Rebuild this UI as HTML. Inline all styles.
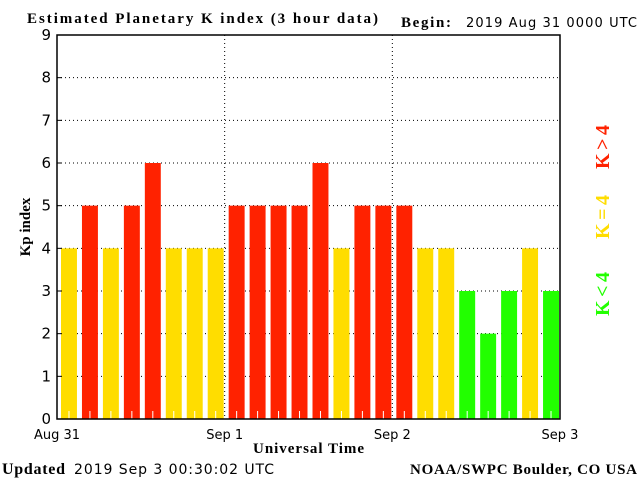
<!DOCTYPE html>
<html><head><meta charset="utf-8"><style>
body{margin:0;background:#fff;width:640px;height:480px;overflow:hidden}
svg{display:block}
.serif{font-family:"Liberation Serif",serif;font-weight:bold}
.sans{font-family:"DejaVu Sans","Liberation Sans",sans-serif}
</style></head><body>
<svg id="chart" width="640" height="480">
<text class="serif" x="27" y="23" font-size="15" textLength="351" lengthAdjust="spacing">Estimated Planetary K index (3 hour data)</text>
<text class="serif" x="401" y="27" font-size="15" textLength="50">Begin:</text>
<text class="sans" x="466" y="27" font-size="13" textLength="171">2019 Aug 31 0000 UTC</text>
<g id="grid"></g>
<g id="bars"></g>
<g id="yticks"></g>
<g id="xticks"></g>
<rect x="57" y="35" width="503" height="384" fill="none" stroke="#000" stroke-width="1.5"/>
<text class="serif" x="30" y="227" font-size="15" text-anchor="middle" transform="rotate(-90 30 227)">Kp index</text>
<text class="serif" x="253" y="453" font-size="15" textLength="111">Universal Time</text>
<text class="serif" x="2" y="474" font-size="16" textLength="63">Updated</text>
<text class="sans" x="74" y="474" font-size="14" textLength="200">2019 Sep  3 00:30:02 UTC</text>
<text class="serif" x="410" y="474" font-size="15" textLength="227">NOAA/SWPC Boulder, CO USA</text>
<text class="serif" x="609" y="147" font-size="20" fill="#ff2200" text-anchor="middle" textLength="44" transform="rotate(-90 609 147)">K&gt;4</text>
<text class="serif" x="609" y="217" font-size="20" fill="#ffdd00" text-anchor="middle" textLength="44" transform="rotate(-90 609 217)">K=4</text>
<text class="serif" x="609" y="294" font-size="20" fill="#22ff00" text-anchor="middle" textLength="44" transform="rotate(-90 609 294)">K&lt;4</text>
</svg>
<script>
const kpValues=[4,5,4,5,6,4,4,4,5,5,5,5,6,4,5,5,5,4,4,3,2,3,4,3];
const yTickLabels=["0","1","2","3","4","5","6","7","8","9"];
const dayLabels=["Aug 31","Sep 1","Sep 2","Sep 3"];
const NS="http://www.w3.org/2000/svg";
const L=57,R=560,T=35,B=419,YMAX=9;
function y(v){return B-(v/YMAX)*(B-T);}
function x(i){return L+i*(R-L)/kpValues.length;}
function mk(tag,attrs,parent){const e=document.createElementNS(NS,tag);for(const k in attrs)e.setAttribute(k,attrs[k]);parent.appendChild(e);return e;}
const grid=document.getElementById('grid'),bars=document.getElementById('bars'),yt=document.getElementById('yticks'),xt=document.getElementById('xticks');
yTickLabels.forEach((lab,i)=>{
  const yy=y(i);
  if(i>0&&i<9){const g=mk('line',{x1:L,x2:R,y1:yy,y2:yy,stroke:'#000','stroke-width':1,'stroke-dasharray':'1,3'},grid);
  
  }
  const tk=mk('line',{x1:L,x2:L+5,y1:yy,y2:yy,stroke:'#000'},yt);
  
  
  const t=mk('text',{x:L-6,y:yy+5,'font-size':15,'text-anchor':'end','class':'sans'},yt);
  
  
  t.textContent=lab;
});
const perDay=kpValues.length/(dayLabels.length-1);
dayLabels.forEach((lab,d)=>{
  const xx=x(d*perDay);
  if(d>0&&d<dayLabels.length-1){const g=mk('line',{x1:xx,x2:xx,y1:T,y2:B,stroke:'#000','stroke-dasharray':'1,3'},grid);
  
  }
  const t=mk('text',{x:xx,y:439,'font-size':13,'text-anchor':'middle','class':'sans'},xt);
  
  
  t.textContent=lab;
});
const slot=(R-L)/kpValues.length;
kpValues.forEach((v,i)=>{
  const col=v>4?'#ff2200':(v===4?'#ffdd00':'#22ff00');
  const r=mk('rect',{x:x(i)+4,y:y(v),width:slot-5,height:B-y(v),fill:col},bars);
  
  
  const cx=x(i)+4+(slot-5)/2;
  const tk=mk('line',{x1:cx,x2:cx,y1:B-8,y2:B,stroke:'#fff','stroke-width':1},bars);
  
  
});
</script>
</body></html>
